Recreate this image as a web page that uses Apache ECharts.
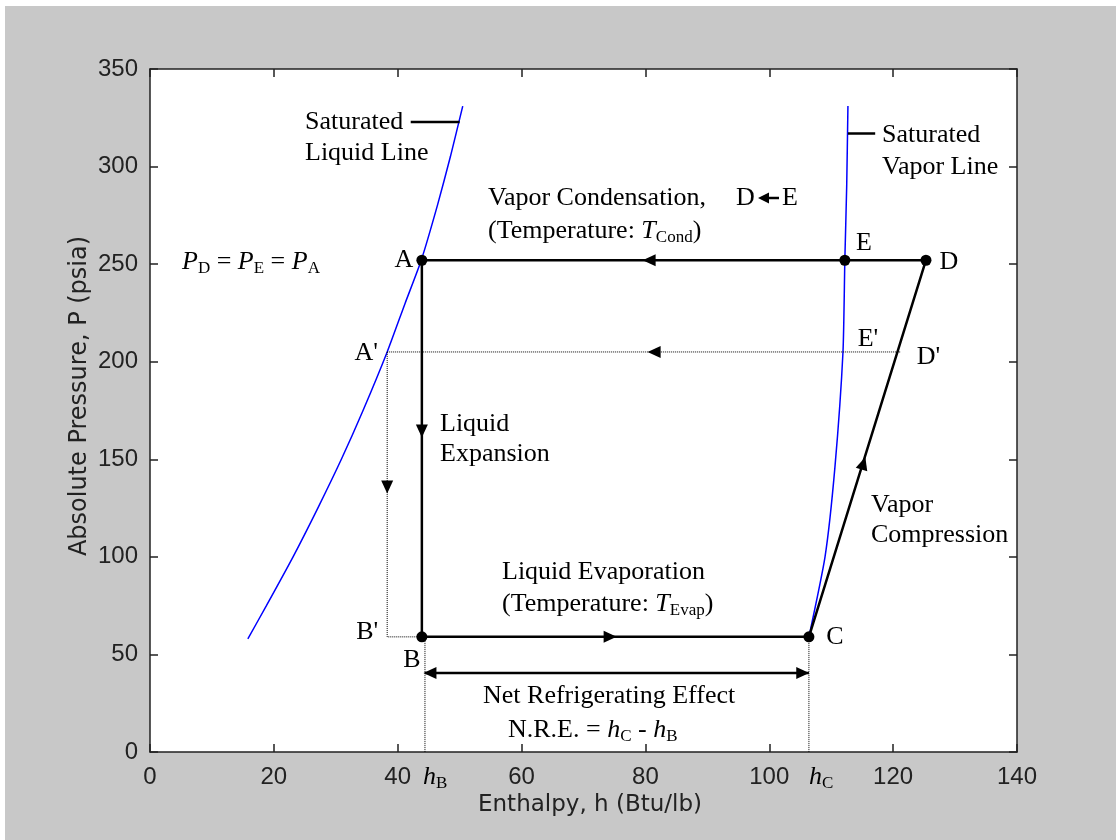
<!DOCTYPE html>
<html>
<head>
<meta charset="utf-8">
<script src="https://cdn.jsdelivr.net/npm/echarts@6/dist/echarts.min.js"></script>
<style>
html,body{margin:0;padding:0;background:#fff}
#chart{width:1116px;height:840px}
</style>
</head>
<body>
<div id="chart"></div>
<script>
// Saturation dome of the refrigerant (enthalpy Btu/lb, pressure psia)
const liquidH = [15.8, 18.8, 23.1, 27.1, 30.9, 34.4, 38.3, 41.2, 43.8, 46.4, 48.5, 50.5];
const liquidP = [58, 75, 100, 125, 150, 175, 205, 230, 252, 280, 305, 331];
const vaporH = [106.4, 109.0, 110.6, 111.9, 112.2, 112.5, 112.7];
const vaporP = [59, 100, 146, 205, 252, 290, 331];

// Actual cycle states
const stateNames = ['A', 'B', 'C', 'D', 'E'];
const stateH = [43.9, 43.9, 106.4, 125.3, 112.2];
const stateP = [252, 59, 59, 252, 252];
const cycleOrder = [0, 1, 2, 3, 0];

// Lower-pressure reference states (dotted)
const idealNames = ["A'", "B'", "D'", "E'"];
const idealH = [38.3, 38.3, 121.2, 111.9];
const idealP = [205, 59, 205, 205];

// Enthalpy markers and net refrigerating effect bar
const hB = 44.4;
const hC = 106.4;
const nreP = 40.5;

// Direction arrows along the paths (rotation in degrees, 0 = pointing up)
const arrowH = [43.9, 74.3, 115.2, 80.6, 81.4, 38.3];
const arrowP = [164.5, 59, 148, 252, 205, 135.8];
const arrowRot = [180, -90, -17, 90, 90, 180];
const nreHeadH = [45.2, 105.4];
const nreHeadRot = [90, -90];

// Leader lines for the curve captions
const liqLeaderH = [42.1, 50.0], liqLeaderP = [322.9, 322.9];
const vapLeaderH = [112.7, 117.1], vapLeaderP = [317, 317];

// Tick labels
const xTicks = [0, 20, 40, 60, 80, 100, 120, 140];
const yTicks = [0, 50, 100, 150, 200, 250, 300, 350];

const stateOffsets = [[-18, 0], [-10, 23], [26, 0], [23, 2], [19, -17]];
const idealOffsets = [[-21, 1], [-20, -5], [28, 5], [25, -13]];

const zip = (a, b) => a.map((v, i) => [v, b[i]]);
const SERIF = "'Liberation Serif', 'Times New Roman', serif";
const AXC = '#222';

const axisCommon = (show) => ({
  type: 'value',
  axisLine: { show: true, onZero: false, lineStyle: { color: AXC, width: 1.5 } },
  axisTick: { show: true, inside: true, length: 8, lineStyle: { color: AXC, width: 1.5 } },
  splitLine: { show: false },
  axisLabel: {
    show: show, color: AXC, fontFamily: "'Liberation Sans', Arial, sans-serif", fontSize: 24
  }
});

const xBottom = Object.assign(axisCommon(true), {
  min: xTicks[0], max: xTicks[xTicks.length - 1], interval: xTicks[1] - xTicks[0], position: 'bottom'
});
xBottom.axisLabel.margin = 13;
const xTop = Object.assign(axisCommon(false), {
  min: xTicks[0], max: xTicks[xTicks.length - 1], interval: xTicks[1] - xTicks[0], position: 'top'
});
const yLeft = Object.assign(axisCommon(true), {
  min: yTicks[0], max: yTicks[yTicks.length - 1], interval: yTicks[1] - yTicks[0], position: 'left'
});
yLeft.axisLabel.margin = 12;
const yRight = Object.assign(axisCommon(false), {
  min: yTicks[0], max: yTicks[yTicks.length - 1], interval: yTicks[1] - yTicks[0], position: 'right'
});

const solid = (data, z) => ({
  type: 'line', data: data, showSymbol: false, silent: true, z: z || 4,
  lineStyle: { color: '#000', width: 2.5 }
});
const dotted = (data) => ({
  type: 'line', data: data, showSymbol: false, silent: true, z: 3,
  lineStyle: { color: '#000', width: 1, type: 'dotted' }
});

const textStyleSerif = {
  fontFamily: SERIF, fontSize: 26, fill: '#000', lineHeight: 30,
  rich: {
    i: { fontFamily: SERIF, fontSize: 26, fontStyle: 'italic', lineHeight: 30 },
    s: { fontFamily: SERIF, fontSize: 17, lineHeight: 17, verticalAlign: 'bottom' }
  }
};
function label(x, y, text, align) {
  return {
    type: 'text', x: x, y: y, silent: true, z: 10,
    style: Object.assign({}, textStyleSerif, { text: text, align: align || 'left', verticalAlign: 'middle' })
  };
}
const pointLabel = {
  show: true, position: 'inside', formatter: '{b}', color: '#000', opacity: 1,
  fontFamily: SERIF, fontSize: 26
};

const option = {
  animation: false,
  backgroundColor: '#c8c8c8',
  grid: { left: 150, top: 69, width: 867, height: 683, show: true, backgroundColor: '#fff', borderWidth: 0 },
  xAxis: [xBottom, xTop],
  yAxis: [yLeft, yRight],
  series: [
    { type: 'line', data: zip(liquidH, liquidP), showSymbol: false, smooth: 0.2, silent: true, z: 2,
      lineStyle: { color: '#0000ff', width: 1.5 } },
    { type: 'line', data: zip(vaporH, vaporP), showSymbol: false, smooth: 0.2, silent: true, z: 2,
      lineStyle: { color: '#0000ff', width: 1.5 } },
    solid(cycleOrder.map(i => [stateH[i], stateP[i]])),
    dotted([[idealH[0], idealP[0]], [idealH[1], idealP[1]], [stateH[1], stateP[1]]]),
    dotted([[idealH[0], idealP[0]], [idealH[2], idealP[2]]]),
    dotted([[hB, stateP[1]], [hB, 0]]),
    dotted([[hC, stateP[2]], [hC, 0]]),
    solid([[hB, nreP], [hC, nreP]]),
    solid(zip(liqLeaderH, liqLeaderP)),
    solid(zip(vapLeaderH, vapLeaderP)),
    { type: 'scatter', silent: true, z: 6, symbol: 'triangle', symbolSize: [12, 13],
      itemStyle: { color: '#000', opacity: 1 },
      data: arrowH.map((h, i) => ({ value: [h, arrowP[i]], symbolRotate: arrowRot[i] }))
        .concat(nreHeadH.map((h, i) => ({ value: [h, nreP], symbolRotate: nreHeadRot[i] }))) },
    { type: 'scatter', silent: true, z: 7, symbol: 'circle', symbolSize: 11,
      itemStyle: { color: '#000', opacity: 1 },
      label: pointLabel,
      data: stateNames.map((n, i) => ({ name: n, value: [stateH[i], stateP[i]], label: { offset: stateOffsets[i] } })) },
    { type: 'scatter', silent: true, z: 7, symbolSize: 0,
      itemStyle: { color: '#000', opacity: 1 },
      label: pointLabel,
      data: idealNames.map((n, i) => ({ name: n, value: [idealH[i], idealP[i]], label: { offset: idealOffsets[i] } })) }
  ],
  graphic: [
    { type: 'rect', shape: { x: 0, y: 0, width: 1116, height: 6 }, style: { fill: '#fff' }, silent: true },
    { type: 'rect', shape: { x: 0, y: 0, width: 5, height: 840 }, style: { fill: '#fff' }, silent: true },
    { type: 'text', x: 590, y: 805, silent: true,
      style: { text: 'Enthalpy, h (Btu/lb)', fontFamily: "'DejaVu Sans', sans-serif", fontSize: 23, fill: AXC, align: 'center', verticalAlign: 'middle' } },
    { type: 'text', x: 80, y: 396, rotation: Math.PI / 2, silent: true,
      style: { text: 'Absolute Pressure, P (psia)', fontFamily: "'DejaVu Sans', sans-serif", fontSize: 24, fill: AXC, align: 'center', verticalAlign: 'middle' } },
    label(305, 122, 'Saturated'),
    label(305, 153, 'Liquid Line'),
    label(882, 135, 'Saturated'),
    label(882, 167, 'Vapor Line'),
    label(182, 262, '{i|P}{s|D} = {i|P}{s|E} = {i|P}{s|A}'),
    label(488, 198, 'Vapor Condensation,'),
    label(736, 198, 'D'),
    label(782, 198, 'E'),
    { type: 'polygon', silent: true, z: 10, shape: { points: [[758, 198], [769, 192.5], [769, 203.5]] }, style: { fill: '#000' } },
    { type: 'line', silent: true, z: 10, shape: { x1: 768, y1: 198, x2: 779, y2: 198 }, style: { stroke: '#000', lineWidth: 2.5 } },
    label(488, 231, '(Temperature: {i|T}{s|Cond})'),
    label(440, 424, 'Liquid'),
    label(440, 454, 'Expansion'),
    label(871, 505, 'Vapor'),
    label(871, 535, 'Compression'),
    label(502, 572, 'Liquid Evaporation'),
    label(502, 604, '(Temperature: {i|T}{s|Evap})'),
    label(483, 696, 'Net Refrigerating Effect'),
    label(508, 730, 'N.R.E. = {i|h}{s|C} - {i|h}{s|B}'),
    label(423, 777, '{i|h}{s|B}'),
    label(809, 777, '{i|h}{s|C}')
  ]
};

const chart = echarts.init(document.getElementById('chart'), null, { renderer: 'canvas' });
chart.setOption(option);
</script>
</body>
</html>
